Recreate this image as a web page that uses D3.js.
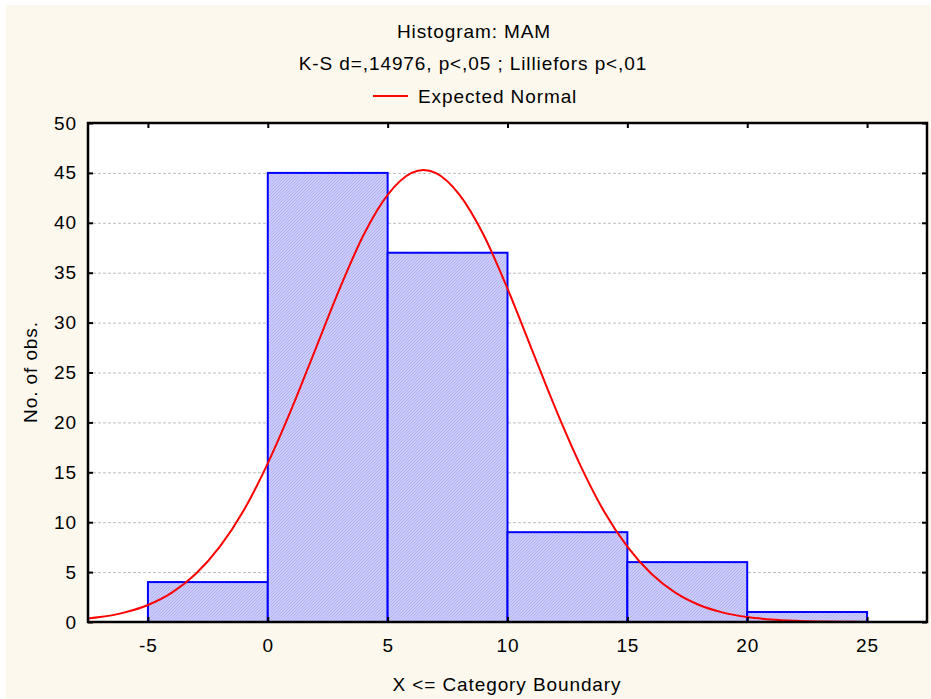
<!DOCTYPE html>
<html>
<head>
<meta charset="utf-8">
<script src="https://cdn.jsdelivr.net/npm/d3@7"></script>
<style>
  html, body { margin: 0; padding: 0; background: #ffffff; }
  svg { display: block; font-family: "Liberation Sans", Arial, sans-serif; }
</style>
</head>
<body>
<svg id="chart" width="931" height="699"></svg>
<script>
// Histogram bins: upper boundaries (X <= boundary) and observed counts
const binStarts = [-5, 0, 5, 10, 15, 20];
const binWidth = 5;
const counts = [4, 45, 37, 9, 6, 1];

// Expected normal curve, sampled points (x, expected count)
const normalX = [-7.5, -7, -6, -5, -4, -3, -2, -1, 0, 1, 2, 3, 4, 5, 6, 6.5, 7, 8, 9, 10, 11, 12, 13, 14, 15, 16, 17, 18, 19, 20, 21, 22, 23, 24, 25, 26, 27.5];
const normalY = [0.35, 0.49, 0.94, 1.7, 2.94, 4.83, 7.55, 11.2, 15.9, 21.4, 27.4, 33.4, 38.8, 42.8, 45.0, 45.3, 45.0, 42.8, 38.8, 33.4, 27.4, 21.4, 15.9, 11.2, 7.55, 4.83, 2.94, 1.7, 0.94, 0.49, 0.25, 0.12, 0.05, 0.02, 0.01, 0.0, 0.0];

// Axis ticks
const xTicks = [-5, 0, 5, 10, 15, 20, 25];
const yTicks = [0, 5, 10, 15, 20, 25, 30, 35, 40, 45, 50];

const titleText = "Histogram: MAM";
const subtitleText = "K-S d=,14976, p<,05 ; Lilliefors p<,01";
const legendText = "Expected Normal";
const xLabel = "X <= Category Boundary";
const yLabel = "No. of obs.";

const svg = d3.select("#chart");
const W = 931, H = 699;
const plot = { left: 88, top: 123, right: 927, bottom: 622 };
const FONT = "'Liberation Sans', Arial, sans-serif";

// Panel background
svg.append("rect").attr("x", 6).attr("y", 5).attr("width", W - 6).attr("height", H - 5)
  .attr("fill", "#fdf8ee");

const x = d3.scaleLinear().domain([-7.5, 27.5]).range([plot.left, plot.right]);
const y = d3.scaleLinear().domain([0, 50]).range([plot.bottom, plot.top]);

// Hatched fill for the bars
const defs = svg.append("defs");
const pat = defs.append("pattern").attr("id", "hatch")
  .attr("patternUnits", "userSpaceOnUse").attr("width", 3).attr("height", 3);
pat.append("rect").attr("width", 3).attr("height", 3).attr("fill", "#cbcbfc");
pat.append("path").attr("d", "M0,3 L3,0 M-1,1 L1,-1 M2,4 L4,2")
  .attr("stroke", "#b0b0f2").attr("stroke-width", 0.9);

defs.append("clipPath").attr("id", "plotClip").append("rect")
  .attr("x", plot.left).attr("y", plot.top)
  .attr("width", plot.right - plot.left).attr("height", plot.bottom - plot.top);

// Plot area
svg.append("rect").attr("x", plot.left).attr("y", plot.top)
  .attr("width", plot.right - plot.left).attr("height", plot.bottom - plot.top)
  .attr("fill", "#ffffff");

// Horizontal dotted grid
svg.append("g").selectAll("line").data(yTicks.filter(d => d > 0 && d < 50)).join("line")
  .attr("x1", plot.left).attr("x2", plot.right)
  .attr("y1", d => y(d) + 0.5).attr("y2", d => y(d) + 0.5)
  .attr("stroke", "#bdbdbd").attr("stroke-width", 1).attr("stroke-dasharray", "3,2");

// Bars
svg.append("g").selectAll("rect").data(counts).join("rect")
  .attr("x", (d, i) => x(binStarts[i]))
  .attr("y", d => y(d))
  .attr("width", (d, i) => x(binStarts[i] + binWidth) - x(binStarts[i]))
  .attr("height", d => y(0) - y(d))
  .attr("fill", "url(#hatch)")
  .attr("stroke", "#0000ff").attr("stroke-width", 2);

// Expected normal curve
const line = d3.line().x(d => x(d[0])).y(d => y(d[1])).curve(d3.curveMonotoneX);
svg.append("path").datum(normalX.map((v, i) => [v, normalY[i]]))
  .attr("clip-path", "url(#plotClip)")
  .attr("d", line).attr("fill", "none").attr("stroke", "#ff0000").attr("stroke-width", 2);

// Frame with inward ticks on all sides
svg.append("rect").attr("x", plot.left).attr("y", plot.top)
  .attr("width", plot.right - plot.left).attr("height", plot.bottom - plot.top)
  .attr("fill", "none").attr("stroke", "#000000").attr("stroke-width", 2.5);

const plain = d => String(d);
const axisLeftG = svg.append("g").attr("transform", `translate(${plot.left},0)`)
  .call(d3.axisLeft(y).tickValues(yTicks).tickSizeInner(-5).tickSizeOuter(0).tickPadding(11).tickFormat(plain));
const axisRightG = svg.append("g").attr("transform", `translate(${plot.right},0)`)
  .call(d3.axisRight(y).tickValues(yTicks).tickSizeInner(-5).tickSizeOuter(0).tickFormat(""));
const axisBottomG = svg.append("g").attr("transform", `translate(0,${plot.bottom})`)
  .call(d3.axisBottom(x).tickValues(xTicks).tickSizeInner(-5).tickSizeOuter(0).tickPadding(17).tickFormat(plain));
const axisTopG = svg.append("g").attr("transform", `translate(0,${plot.top})`)
  .call(d3.axisTop(x).tickValues(xTicks).tickSizeInner(-5).tickSizeOuter(0).tickFormat(""));

[axisLeftG, axisRightG, axisBottomG, axisTopG].forEach(g => {
  g.select(".domain").remove();
  g.selectAll(".tick line").attr("stroke", "#000000").attr("stroke-width", 2);
  g.selectAll(".tick text").attr("fill", "#000000")
    .style("font-size", "19px").style("letter-spacing", "0.9px").style("font-family", FONT);
});

// Titles
const textStyle = s => s.attr("fill", "#000000").style("font-size", "19px")
  .style("letter-spacing", "0.9px").style("font-family", FONT);
svg.append("text").attr("x", 474).attr("y", 38).attr("text-anchor", "middle")
  .text(titleText).call(textStyle);
svg.append("text").attr("x", 473).attr("y", 70).attr("text-anchor", "middle")
  .text(subtitleText).call(textStyle);

// Legend
svg.append("line").attr("x1", 373).attr("x2", 408).attr("y1", 96).attr("y2", 96)
  .attr("stroke", "#ff0000").attr("stroke-width", 2);
svg.append("text").attr("x", 418).attr("y", 103).text(legendText).call(textStyle);

// Axis labels
svg.append("text").attr("x", 507).attr("y", 691).attr("text-anchor", "middle")
  .text(xLabel).call(textStyle);
svg.append("text").attr("transform", "translate(37,372) rotate(-90)")
  .attr("text-anchor", "middle").text(yLabel).call(textStyle);
</script>
</body>
</html>
